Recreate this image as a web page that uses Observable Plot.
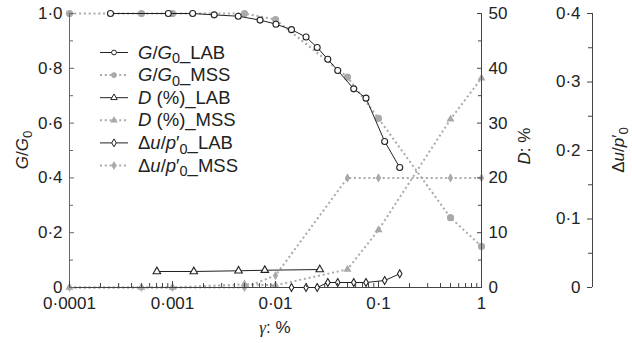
<!DOCTYPE html>
<html><head><meta charset="utf-8">
<script src="https://cdn.jsdelivr.net/npm/d3@7"></script>
<script src="https://cdn.jsdelivr.net/npm/@observablehq/plot@0.6"></script>
<style>
body{margin:0;background:#fff}
svg{font-family:"Liberation Sans",Arial,sans-serif}
</style>
</head><body><div id="chart"></div>
<script>
// ---- data ----
const gLabX = [0.00025,0.00091,0.00157,0.00254,0.00435,0.00708,0.0101,0.0143,0.0198,0.0254,0.0322,0.0402,0.0575,0.0756,0.1148,0.1607];
const gLabY = [1.0,1.0,1.0,0.995,0.99,0.976,0.961,0.941,0.914,0.876,0.833,0.792,0.725,0.691,0.533,0.438];
const mssX  = [0.0001,0.0005,0.001,0.005,0.01,0.05,0.1,0.5,1];
const gMssY = [1.0,1.0,1.0,1.0,0.978,0.768,0.617,0.255,0.150];
const dMssY = [0,0,0,0.6,0.4,3.3,10.5,30.7,38.2];
const duMssY = [0,0,0,0,0.0175,0.16,0.16,0.16,0.16];
const dLabX = [0.000705,0.00161,0.00438,0.00787,0.0269];
const dLabY = [2.92,2.92,3.05,3.15,3.28];
const duLabX = [0.0143,0.0198,0.0254,0.0322,0.0402,0.0575,0.0756,0.1148,0.1607];
const duLabY = [0,0,0,0.0073,0.0073,0.0073,0.0073,0.0102,0.020];

const xTicks = [0.0001,0.001,0.01,0.1,1];
const xTickLabels = ["0·0001","0·001","0·01","0·1","1"];
const gTicks = [0,0.2,0.4,0.6,0.8,1.0];
const gTickLabels = ["0","0·2","0·4","0·6","0·8","1·0"];
const gMinor = [0.1,0.3,0.5,0.7,0.9];
const dTicks = [0,10,20,30,40,50];
const dTickLabels = ["0","10","20","30","40","50"];
const dMinor = [5,15,25,35,45];
const duTicks = [0,0.1,0.2,0.3,0.4];
const duTickLabels = ["0","0·1","0·2","0·3","0·4"];
const duMinor = [0.05,0.15,0.25,0.35];
const D_MAX = 50, DU_MAX = 0.4;

// ---- build ----
const gray = "#a9a9a9", dark = "#222";
const FS = 17, LFS = 18.5;
const xMinor = [];
[0.0001,0.001,0.01,0.1].forEach(b => { for (let k = 2; k <= 9; k++) xMinor.push(b*k); });

const gLab = gLabX.map((x,i)=>({x, y:gLabY[i]}));
const gMss = mssX.map((x,i)=>({x, y:gMssY[i]}));
const dMss = mssX.map((x,i)=>({x, y:dMssY[i]/D_MAX}));
const duMss = mssX.map((x,i)=>({x, y:duMssY[i]/DU_MAX}));
const dLab = dLabX.map((x,i)=>({x, y:dLabY[i]/D_MAX}));
const duLab = duLabX.map((x,i)=>({x, y:duLabY[i]/DU_MAX}));

const lab = (vals, labels) => { const m = new Map(vals.map((v,i)=>[v, labels[i]])); return d => m.get(d) ?? ""; };
const DASH = "2,2.8";
const dotted = {stroke: gray, strokeWidth: 2, strokeDasharray: DASH, strokeLinecap: "butt"};
const solid = {stroke: dark, strokeWidth: 1};
const openDot = {stroke: dark, fill: "white", strokeWidth: 1.1};
const axisCol = "#444";
const THIRD_DX = 523;

const chart = Plot.plot({
  width: 632, height: 343,
  marginLeft: 69, marginRight: 151, marginTop: 13, marginBottom: 56,
  style: {fontSize: FS + "px", fontFamily: "Liberation Sans, Arial, sans-serif", color: "#222", background: "white"},
  x: {type: "log", domain: [1e-4, 1]},
  y: {domain: [0, 1]},
  marks: [
    Plot.line(gMss, {x:"x", y:"y", ...dotted}),
    Plot.line(dMss, {x:"x", y:"y", ...dotted}),
    Plot.line(duMss, {x:"x", y:"y", ...dotted}),
    Plot.dot(gMss, {x:"x", y:"y", symbol:"circle", r:3.6, fill: gray}),
    Plot.dot(dMss, {x:"x", y:"y", symbol:"triangle", r:3, fill: gray}),
    Plot.dot(duMss, {x:"x", y:"y", symbol:"diamond", r:2.8, fill: gray}),
    Plot.ruleY([0], {stroke: axisCol}),
    Plot.ruleX([1e-4], {stroke: "#666"}),
    Plot.ruleX([1], {stroke: axisCol}),
    Plot.ruleX([1e-4], {stroke: axisCol, dx: THIRD_DX}),
    Plot.line(gLab, {x:"x", y:"y", ...solid}),
    Plot.line(dLab, {x:"x", y:"y", ...solid}),
    Plot.line(duLab, {x:"x", y:"y", ...solid}),
    Plot.dot(gLab, {x:"x", y:"y", symbol:"circle", r: 3, ...openDot}),
    Plot.dot(dLab, {x:"x", y:"y", symbol:"triangle", r: 2.8, ...openDot}),
    Plot.dot(duLab, {x:"x", y:"y", symbol:"diamond", r: 2.4, ...openDot}),
    Plot.axisX({ticks: xTicks, tickFormat: lab(xTicks, xTickLabels), tickSize: -6, tickPadding: 15, label: null, stroke: axisCol}),
    Plot.axisX({ticks: xMinor, tickFormat: () => "", tickSize: -4, label: null, stroke: axisCol}),
    Plot.axisY({anchor: "left", ticks: gTicks, tickFormat: lab(gTicks, gTickLabels), tickSize: -5, tickPadding: 12, label: null, stroke: "#666"}),
    Plot.axisY({anchor: "left", ticks: gMinor, tickFormat: () => "", tickSize: -4, label: null, stroke: "#666"}),
    Plot.axisY({anchor: "right", ticks: dTicks.map(v=>v/D_MAX), tickFormat: lab(dTicks.map(v=>v/D_MAX), dTickLabels), tickSize: -5, tickPadding: 12, label: null, stroke: axisCol}),
    Plot.axisY({anchor: "right", ticks: dMinor.map(v=>v/D_MAX), tickFormat: () => "", tickSize: -4, label: null, stroke: axisCol}),
    Plot.axisY({anchor: "left", dx: THIRD_DX, ticks: duTicks.map(v=>v/DU_MAX), tickFormat: lab(duTicks.map(v=>v/DU_MAX), duTickLabels), tickSize: 5, tickPadding: 7, label: null, stroke: axisCol}),
    Plot.axisY({anchor: "left", dx: THIRD_DX, ticks: duMinor.map(v=>v/DU_MAX), tickFormat: () => "", tickSize: 4, label: null, stroke: axisCol})
  ]
});
document.getElementById("chart").appendChild(chart);

// ---- rich text helpers ----
const svg = d3.select(chart);
function rich(t, parts, fs) {
  let shifted = 0;
  parts.forEach(([s, kind]) => {
    const ts = t.append("tspan").text(s);
    let dy = 0;
    if (kind.includes("sub")) {
      ts.attr("font-size", fs*0.78);
      if (!shifted) { dy = fs*0.26; shifted = 1; }
    } else if (shifted) { dy = -fs*0.26; shifted = 0; }
    if (dy) ts.attr("dy", dy);
    if (kind.includes("i")) ts.attr("font-style", "italic");
    if (kind.includes("serif")) ts.attr("font-family", "Liberation Serif, serif");
  });
}
const GG0 = [["G","i"],["/",""],["G","i"],["0","sub"]];
const DUP = [["Δ",""],["u","i"],["/",""],["p","i"],["′",""],["0","sub"]];

// axis titles
rich(svg.append("text").attr("transform","translate(28,150) rotate(-90)").attr("text-anchor","middle").attr("font-size",FS).attr("fill","#222"), GG0, FS);
rich(svg.append("text").attr("transform","translate(530,146) rotate(-90)").attr("text-anchor","middle").attr("font-size",FS).attr("fill","#222"), [["D","i"],[": %",""]], FS);
rich(svg.append("text").attr("transform","translate(624,150) rotate(-90)").attr("text-anchor","middle").attr("font-size",FS).attr("fill","#222"), DUP, FS);
rich(svg.append("text").attr("x",275).attr("y",333).attr("text-anchor","middle").attr("font-size",FS).attr("fill","#222"), [["γ","i serif"],[": %",""]], FS);

// legend
const legendItems = [
  {parts: [...GG0, ["_LAB",""]], sym: d3.symbolCircle, lab: true},
  {parts: [...GG0, ["_MSS",""]], sym: d3.symbolCircle, lab: false},
  {parts: [["D","i"],[" (%)_LAB",""]], sym: d3.symbolTriangle, lab: true},
  {parts: [["D","i"],[" (%)_MSS",""]], sym: d3.symbolTriangle, lab: false},
  {parts: [...DUP, ["_LAB",""]], sym: d3.symbolDiamond, lab: true},
  {parts: [...DUP, ["_MSS",""]], sym: d3.symbolDiamond, lab: false}
];
const lg = svg.append("g");
legendItems.forEach((it, i) => {
  const y = 52.5 + i*22.6;
  const g = lg.append("g").attr("transform", `translate(0,${y})`);
  g.append("line").attr("x1",100).attr("x2",128).attr("y1",0).attr("y2",0)
    .attr("stroke", it.lab ? dark : gray).attr("stroke-width", it.lab ? 1 : 2)
    .attr("stroke-dasharray", it.lab ? null : DASH);
  const r = it.lab ? 2.4 : 2.8;
  g.append("path").attr("transform","translate(114,0)").attr("d", d3.symbol(it.sym, Math.PI*r*r)())
    .attr("fill", it.lab ? "white" : gray).attr("stroke", it.lab ? dark : "none").attr("stroke-width", 1);
  rich(g.append("text").attr("x",138).attr("y",6).attr("text-anchor","start").attr("font-size",LFS).attr("fill","#222"), it.parts, LFS);
});
</script>
</body></html>
